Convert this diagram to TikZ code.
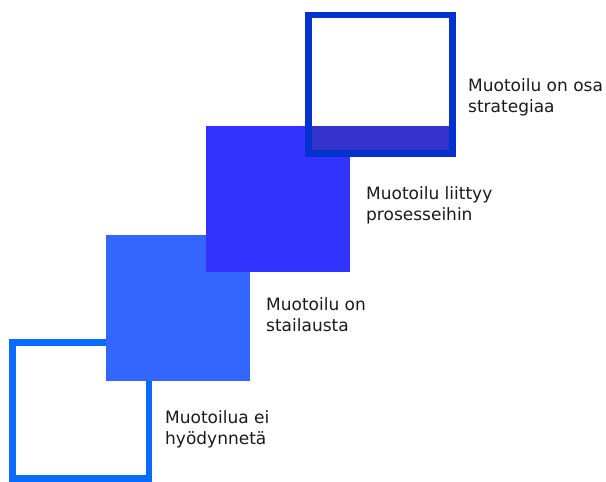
\documentclass[tikz,border=0pt]{standalone}
\usepackage{fontspec}
\setmainfont{DejaVu Sans}
\usepackage{xcolor}
\usetikzlibrary{positioning}
\definecolor{cEmpty}  {HTML}{0A6BFF}
\definecolor{cStyle}  {HTML}{3366FF}
\definecolor{cProc}   {HTML}{3333FF}
\definecolor{cStrat}  {HTML}{0033CC}
\definecolor{cBand}   {HTML}{3333CC}
\definecolor{cText}   {HTML}{1A1A1A}
\tikzset{
  lbl/.style={anchor=west, align=left, inner sep=0pt, text=cText,
    font=\fontsize{17}{21}\selectfont},
  frame/.style={line width=6.5pt},
}

\begin{document}
\begin{tikzpicture}[x=1pt, y=-1pt]
  \useasboundingbox (0,0) rectangle (606,482);
  % steps, bottom to top
  \draw[frame, cEmpty] (12.7,342.4) rectangle (149,478.5);
  \fill[cStyle] (106,235.3) rectangle (250,381.3);
  \fill[cProc] (206,126) rectangle (350,272);
  \fill[cBand] (308.7,126) rectangle (452.3,153.7);
  \draw[frame, cStrat] (308.7,15.2) rectangle (452.3,153.7);
  % labels
  \node[lbl] (t4) at (468,97) {Muotoilu on osa\\strategiaa};
  \node[lbl] (t3) at (366,205) {Muotoilu liittyy\\prosesseihin};
  \node[lbl] (t2) at (266,315) {Muotoilu on\\stailausta};
  \node[lbl] (t1) at (165,429) {Muotoilua ei\\hyödynnetä};
\end{tikzpicture}
\end{document}
